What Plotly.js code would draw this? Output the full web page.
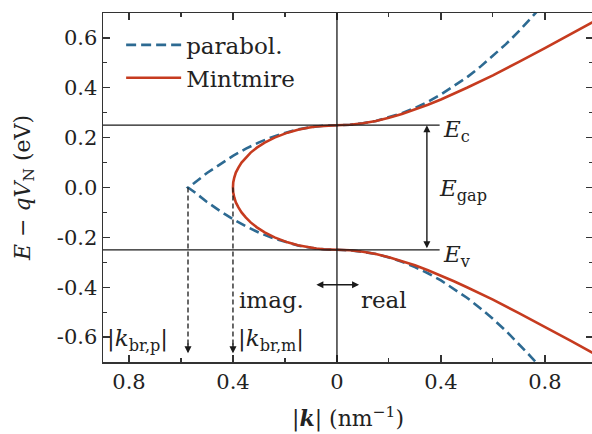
<!DOCTYPE html>
<html>
<head>
<meta charset="utf-8">
<script src="https://cdn.plot.ly/plotly-3.0.1.min.js"></script>
<style>
html,body{margin:0;padding:0;overflow:hidden;background:#fff;}
#plot{width:596px;height:434px;}
</style>
</head>
<body>
<div id="plot"></div>
<script>
// Parabolic dispersion (signed k: negative = imaginary |k|)
const kParab = [0.78, 0.75, 0.70, 0.65, 0.60, 0.55, 0.50, 0.45, 0.40, 0.35, 0.30, 0.25, 0.20, 0.15, 0.10, 0.05, 0.00,
  -0.05, -0.10, -0.15, -0.20, -0.25, -0.30, -0.35, -0.40, -0.45, -0.50, -0.55, -0.573,
  -0.55, -0.50, -0.45, -0.40, -0.35, -0.30, -0.25, -0.20, -0.15, -0.10, -0.05, 0.00,
  0.05, 0.10, 0.15, 0.20, 0.25, 0.30, 0.35, 0.40, 0.45, 0.50, 0.55, 0.60, 0.65, 0.70, 0.75, 0.78];
const eParab = [0.718, 0.683, 0.627, 0.575, 0.527, 0.483, 0.442, 0.406, 0.373, 0.344, 0.319, 0.298, 0.281, 0.267, 0.258, 0.252, 0.250,
  0.248, 0.242, 0.233, 0.219, 0.202, 0.181, 0.156, 0.127, 0.094, 0.058, 0.017, 0.000,
  -0.017, -0.058, -0.094, -0.127, -0.156, -0.181, -0.202, -0.219, -0.233, -0.242, -0.248, -0.250,
  -0.252, -0.258, -0.267, -0.281, -0.298, -0.319, -0.344, -0.373, -0.406, -0.442, -0.483, -0.527, -0.575, -0.627, -0.683, -0.718];

// Mintmire dispersion
const kMint = [1.00, 0.90, 0.80, 0.70, 0.60, 0.50, 0.45, 0.40, 0.35, 0.30, 0.25, 0.20, 0.15, 0.10, 0.05, 0.00,
  -0.05, -0.08, -0.112, -0.15, -0.19, -0.24, -0.278, -0.308, -0.332, -0.351, -0.367, -0.379, -0.389, -0.395, -0.399, -0.400,
  -0.399, -0.395, -0.389, -0.379, -0.367, -0.351, -0.332, -0.308, -0.278, -0.24, -0.19, -0.15, -0.112, -0.08, -0.05, 0.00,
  0.05, 0.10, 0.15, 0.20, 0.25, 0.30, 0.35, 0.40, 0.45, 0.50, 0.60, 0.70, 0.80, 0.90, 1.00];
const eMint = [0.673, 0.615, 0.559, 0.504, 0.450, 0.400, 0.376, 0.353, 0.332, 0.312, 0.295, 0.280, 0.267, 0.258, 0.252, 0.250,
  0.248, 0.245, 0.240, 0.232, 0.220, 0.200, 0.180, 0.160, 0.140, 0.120, 0.100, 0.080, 0.060, 0.040, 0.020, 0.000,
  -0.020, -0.040, -0.060, -0.080, -0.100, -0.120, -0.140, -0.160, -0.180, -0.200, -0.220, -0.232, -0.240, -0.245, -0.248, -0.250,
  -0.252, -0.258, -0.267, -0.280, -0.295, -0.312, -0.332, -0.353, -0.376, -0.400, -0.450, -0.504, -0.559, -0.615, -0.673];

const seriesNames = ['parabol.', 'Mintmire'];
const xTickVals = [-0.8, -0.4, 0, 0.4, 0.8];
const xTickText = ['0.8', '0.4', '0', '0.4', '0.8'];
const yTickVals = [-0.6, -0.4, -0.2, 0, 0.2, 0.4, 0.6];
const yTickText = ['-0.6', '-0.4', '-0.2', '0.0', '0.2', '0.4', '0.6'];

// band edges and break-point wavevectors
const Ec = 0.25, Ev = -0.25;
const kBrP = -0.573, kBrM = -0.400;

const traces = [
  {x: kParab, y: eParab, mode: 'lines', name: seriesNames[0],
   line: {color: '#2d6a92', width: 2.6, dash: '10px,5px'}},
  {x: kMint, y: eMint, mode: 'lines', name: seriesNames[1],
   line: {color: '#c63b1f', width: 2.6}}
];

const FONT = 'DejaVu Serif, serif';
const TXT = '#222';
const black = '#1a1a1a';

const shapes = [
  {type: 'line', xref: 'x', yref: 'y', x0: 0, x1: 0, y0: -0.7, y1: 0.7, line: {color: black, width: 1.3}},
  {type: 'line', xref: 'x', yref: 'y', x0: -0.9, x1: 0.395, y0: Ec, y1: Ec, line: {color: black, width: 1.3}},
  {type: 'line', xref: 'x', yref: 'y', x0: -0.9, x1: 0.395, y0: Ev, y1: Ev, line: {color: black, width: 1.3}},
  {type: 'line', xref: 'x', yref: 'y', x0: kBrP, x1: kBrP, y0: 0, y1: -0.63, line: {color: black, width: 1.3, dash: '5px,3px'}},
  {type: 'line', xref: 'x', yref: 'y', x0: kBrM, x1: kBrM, y0: 0, y1: -0.63, line: {color: black, width: 1.3, dash: '5px,3px'}}
];

const arrowBase = {text: '', showarrow: true, arrowhead: 2, arrowsize: 1, arrowwidth: 1.4, arrowcolor: black,
  xref: 'x', yref: 'y', axref: 'x', ayref: 'y', standoff: 0, startstandoff: 0};

const annotations = [
  Object.assign({}, arrowBase, {x: 0.346, y: Ec, ax: 0.346, ay: Ev, arrowside: 'end+start'}),
  Object.assign({}, arrowBase, {x: 0.085, y: -0.39, ax: -0.085, ay: -0.39, arrowside: 'end+start'}),
  Object.assign({}, arrowBase, {x: kBrP, y: -0.665, ax: kBrP, ay: -0.62}),
  Object.assign({}, arrowBase, {x: kBrM, y: -0.665, ax: kBrM, ay: -0.62}),
  {text: '<i>E</i><sub>c</sub>', x: 0.402, y: 0.225, xref: 'x', yref: 'y', showarrow: false, xanchor: 'left', yanchor: 'middle'},
  {text: '<i>E</i><sub>gap</sub>', x: 0.383, y: -0.01, xref: 'x', yref: 'y', showarrow: false, xanchor: 'left', yanchor: 'middle'},
  {text: '<i>E</i><sub>v</sub>', x: 0.402, y: -0.275, xref: 'x', yref: 'y', showarrow: false, xanchor: 'left', yanchor: 'middle'},
  {text: 'imag.', x: -0.12, y: -0.45, xref: 'x', yref: 'y', showarrow: false, xanchor: 'right', yanchor: 'middle'},
  {text: 'real', x: 0.085, y: -0.45, xref: 'x', yref: 'y', showarrow: false, xanchor: 'left', yanchor: 'middle'},
  {text: '|<i>k</i><sub>br,p</sub>|', x: -0.892, y: -0.61, xref: 'x', yref: 'y', showarrow: false, xanchor: 'left', yanchor: 'middle'},
  {text: '|<i>k</i><sub>br,m</sub>|', x: -0.388, y: -0.61, xref: 'x', yref: 'y', showarrow: false, xanchor: 'left', yanchor: 'middle'}
];

const axisCommon = {
  showgrid: false, zeroline: false, showline: true, linecolor: '#333', linewidth: 1.5,
  ticks: 'inside', ticklen: 7, tickwidth: 1.3, tickcolor: '#333', mirror: 'allticks',
  tickfont: {family: FONT, size: 21, color: TXT}
};

const layout = {
  width: 596, height: 434,
  margin: {l: 103, r: 3, t: 13, b: 72},
  paper_bgcolor: '#fff', plot_bgcolor: '#fff',
  font: {family: FONT, size: 23, color: TXT},
  showlegend: true,
  legend: {x: 0.037, y: 0.97, xanchor: 'left', yanchor: 'top', bgcolor: 'rgba(0,0,0,0)',
    font: {family: FONT, size: 23, color: TXT}, tracegroupgap: 0, itemwidth: 55},
  xaxis: Object.assign({}, axisCommon, {
    range: [-0.9, 0.985], tickmode: 'array', tickvals: xTickVals, ticktext: xTickText,
    minor: {tickvals: [-0.6, -0.2, 0.2, 0.6], ticks: 'inside', ticklen: 4, tickwidth: 1.1, tickcolor: '#333'},
    title: {text: '|<b><i>k</i></b>| (nm<sup>−1</sup>)', font: {family: FONT, size: 22, color: TXT}, standoff: 18}
  }),
  yaxis: Object.assign({}, axisCommon, {
    range: [-0.7, 0.7], tickmode: 'array', tickvals: yTickVals, ticktext: yTickText,
    minor: {tickvals: [-0.5, -0.3, -0.1, 0.1, 0.3, 0.5], ticks: 'inside', ticklen: 4, tickwidth: 1.1, tickcolor: '#333'},
    title: {text: '<i>E</i> − <i>qV</i><sub>N</sub> (eV)', font: {family: FONT, size: 22, color: TXT}, standoff: 20}
  }),
  shapes: shapes,
  annotations: annotations
};

Plotly.newPlot('plot', traces, layout, {displayModeBar: false, staticPlot: true});
</script>
</body>
</html>
